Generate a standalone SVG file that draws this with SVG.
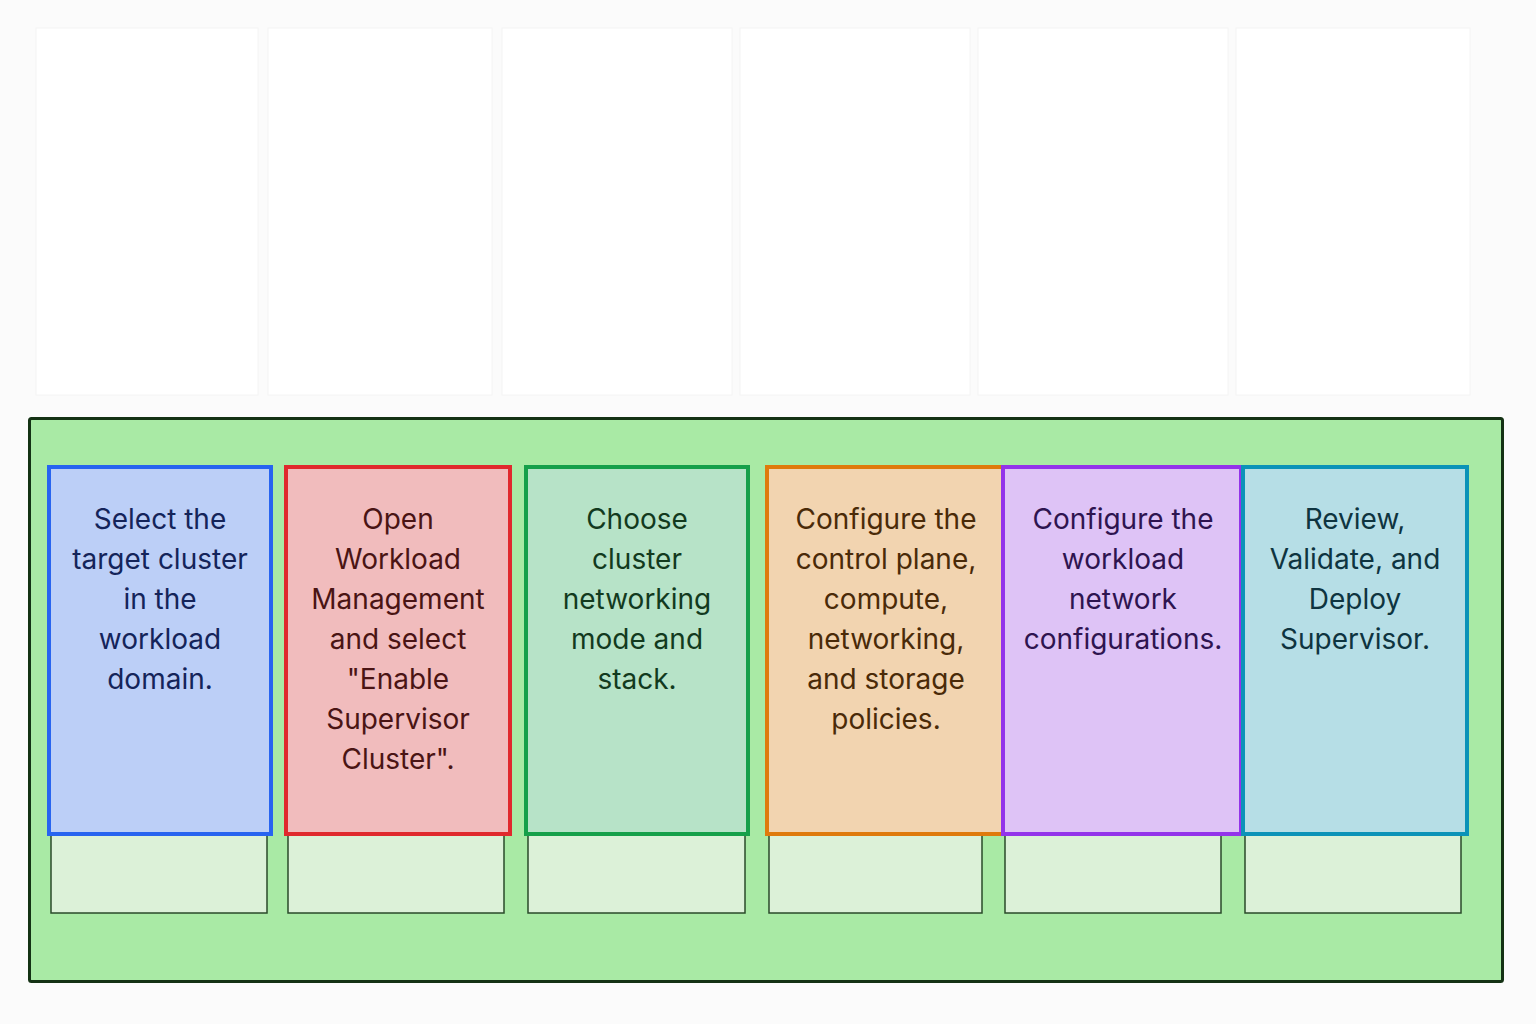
<svg xmlns="http://www.w3.org/2000/svg" width="1536" height="1024" viewBox="0 0 1536 1024">
<style>
.p{fill:#ffffff;stroke:#f4f4f4;stroke-width:1}
.c{stroke-width:4}
.s{fill:#dcf1d8;stroke:#2a4a2a;stroke-width:1.5}
text{font-family:Inter,"Noto Sans",sans-serif;font-size:28px;text-anchor:middle}
</style>
<rect width="1536" height="1024" fill="#fbfbfb"/>
<g id="panels">
<rect class="p" x="36" y="28" width="222" height="367"/>
<rect class="p" x="268" y="28" width="224" height="367"/>
<rect class="p" x="502" y="28" width="230" height="367"/>
<rect class="p" x="740" y="28" width="230" height="367"/>
<rect class="p" x="978" y="28" width="250" height="367"/>
<rect class="p" x="1236" y="28" width="234" height="367"/>
</g>
<g id="container"><rect x="29.5" y="418.5" width="1473" height="563" rx="2" fill="#a9eaa5" stroke="#143214" stroke-width="3"/></g>
<g id="slots">
<rect class="s" x="51" y="834" width="216" height="79"/>
<rect class="s" x="288" y="834" width="216" height="79"/>
<rect class="s" x="528" y="834" width="217" height="79"/>
<rect class="s" x="769" y="834" width="213" height="79"/>
<rect class="s" x="1005" y="834" width="216" height="79"/>
<rect class="s" x="1245" y="834" width="216" height="79"/>
</g>
<g id="connectors"></g>
<g id="n1"><rect class="c" x="49" y="467" width="222" height="367" fill="#bccff7" stroke="#2764f0"/>
<text fill="#14245a"><tspan x="160" y="529">Select the</tspan><tspan x="160" y="569">target cluster</tspan><tspan x="160" y="609">in the</tspan><tspan x="160" y="649">workload</tspan><tspan x="160" y="689">domain.</tspan></text></g>
<g id="n2"><rect class="c" x="286" y="467" width="224" height="367" fill="#f1bcbd" stroke="#e0292d"/>
<text fill="#4a1414"><tspan x="398" y="529">Open</tspan><tspan x="398" y="569">Workload</tspan><tspan x="398" y="609">Management</tspan><tspan x="398" y="649">and select</tspan><tspan x="398" y="689">"Enable</tspan><tspan x="398" y="729">Supervisor</tspan><tspan x="398" y="769">Cluster".</tspan></text></g>
<g id="n3"><rect class="c" x="526" y="467" width="222" height="367" fill="#b7e3c8" stroke="#16a04a"/>
<text fill="#123a1e"><tspan x="637" y="529">Choose</tspan><tspan x="637" y="569">cluster</tspan><tspan x="637" y="609">networking</tspan><tspan x="637" y="649">mode and</tspan><tspan x="637" y="689">stack.</tspan></text></g>
<g id="n4"><rect class="c" x="767" y="467" width="236" height="367" fill="#f2d4b0" stroke="#df7a0c"/>
<text fill="#4a2a08"><tspan x="886" y="529">Configure the</tspan><tspan x="886" y="569">control plane,</tspan><tspan x="886" y="609">compute,</tspan><tspan x="886" y="649">networking,</tspan><tspan x="886" y="689">and storage</tspan><tspan x="886" y="729">policies.</tspan></text></g>
<g id="n5"><rect class="c" x="1003" y="467" width="238" height="367" fill="#dec3f6" stroke="#9333ea"/>
<text fill="#2e1450"><tspan x="1123" y="529">Configure the</tspan><tspan x="1123" y="569">workload</tspan><tspan x="1123" y="609">network</tspan><tspan x="1123" y="649">configurations.</tspan></text></g>
<g id="n6"><rect class="c" x="1243" y="467" width="224" height="367" fill="#b6dee6" stroke="#0b93b8"/>
<text fill="#0e3440"><tspan x="1355" y="529">Review,</tspan><tspan x="1355" y="569">Validate, and</tspan><tspan x="1355" y="609">Deploy</tspan><tspan x="1355" y="649">Supervisor.</tspan></text></g>
</svg>
